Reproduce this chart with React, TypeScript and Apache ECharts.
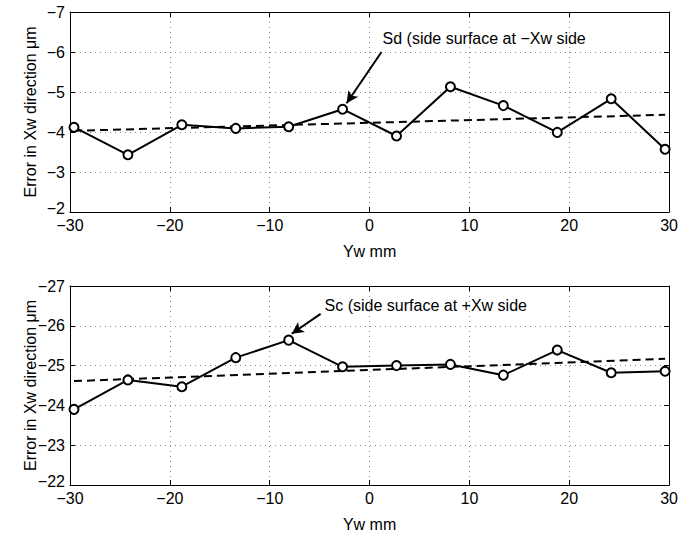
import React, { useEffect, useRef } from "react";
import * as echarts from "echarts";

const xPositions = [-29.6, -24.2, -18.8, -13.4, -8.1, -2.7, 2.7, 8.1, 13.4, 18.8, 24.2, 29.6];
const sdValues = [-4.12, -3.43, -4.18, -4.09, -4.13, -4.57, -3.9, -5.13, -4.66, -3.99, -4.83, -3.57];
const scValues = [-23.9, -24.64, -24.47, -25.2, -25.64, -24.97, -25.0, -25.03, -24.76, -25.39, -24.82, -24.86];
const sdTrendX = [-29.6, 29.6];
const sdTrend = [-4.03, -4.43];
const scTrendX = [-29.6, 29.6];
const scTrend = [-24.61, -25.17];
const xTicks = [-30, -20, -10, 0, 10, 20, 30];
const sdLabel = "Sd (side surface at \u2212Xw side";
const scLabel = "Sc (side surface at +Xw side";
const xName = "Yw mm";
const yName = "Error in Xw direction \u03bcm";

const fmt = (v: number) => (v < 0 ? "\u2212" + Math.abs(v) : String(v));
const FONT = "Liberation Sans, Arial, Helvetica, sans-serif";
const FS = 16;

export default function App() {
  const ref = useRef<HTMLDivElement>(null);
  useEffect(() => {
    if (!ref.current) return;
    const chart = echarts.init(ref.current, undefined, { renderer: "svg" });
    const grids = [
      { left: 70, right: 11, top: 12, height: 200 },
      { left: 70, right: 11, top: 286, height: 199 },
    ];
    const mkX = (gi: number, pos: "bottom" | "top", labels: boolean) => ({
      type: "value",
      gridIndex: gi,
      position: pos,
      min: xTicks[0],
      max: xTicks[xTicks.length - 1],
      interval: 10,
      name: labels ? xName : "",
      nameLocation: "middle",
      nameGap: 31,
      nameMoveOverlap: false,
      nameTextStyle: { color: "#000", fontSize: FS, fontFamily: FONT },
      axisLine: { show: true, onZero: false, lineStyle: { color: "#000", width: 1 } },
      axisTick: { show: true, inside: true, length: 5, lineStyle: { color: "#000" } },
      axisLabel: {
        show: labels,
        color: "#000",
        fontSize: FS,
        fontFamily: FONT,
        margin: 5,
        formatter: fmt,
      },
      splitLine: labels
        ? { show: true, lineStyle: { color: "#888", type: [1, 4], width: 1 } }
        : { show: false },
    });
    const mkY = (gi: number, pos: "left" | "right", labels: boolean, min: number, max: number) => ({
      type: "value",
      gridIndex: gi,
      position: pos,
      inverse: true,
      min,
      max,
      interval: 1,
      name: labels ? yName : "",
      nameLocation: "middle",
      nameGap: 32,
      nameMoveOverlap: false,
      nameTextStyle: { color: "#000", fontSize: FS, fontFamily: FONT },
      axisLine: { show: true, onZero: false, lineStyle: { color: "#000", width: 1 } },
      axisTick: { show: true, inside: true, length: 5, lineStyle: { color: "#000" } },
      axisLabel: {
        show: labels,
        color: "#000",
        fontSize: FS,
        fontFamily: FONT,
        margin: 5,
        formatter: (v: number) => (v === max ? "{lift|" + fmt(v) + "}" : fmt(v)),
        rich: {
          lift: {
            color: "#000",
            fontSize: FS,
            fontFamily: FONT,
            padding: [0, 0, 8, 0],
          },
        },
      },
      splitLine: labels
        ? { show: true, lineStyle: { color: "#888", type: [1, 4], width: 1 } }
        : { show: false },
    });
    const dataSeries = (xi: number, vals: number[], arrow: number[][]) => ({
      type: "line",
      xAxisIndex: xi,
      yAxisIndex: xi,
      data: xPositions.map((x, i) => [x, vals[i]]),
      symbol: "circle",
      symbolSize: 9,
      showSymbol: true,
      z: 5,
      lineStyle: { color: "#000", width: 2 },
      itemStyle: { color: "#fff", borderColor: "#000", borderWidth: 2 },
      markLine: {
        silent: true,
        symbol: ["none", "arrow"],
        symbolSize: [9, 12],
        label: { show: false },
        lineStyle: { color: "#000", width: 2, type: "solid" },
        data: [[{ coord: arrow[0] }, { coord: arrow[1] }]],
      },
    });
    const trendSeries = (xi: number, xs: number[], vals: number[]) => ({
      type: "line",
      xAxisIndex: xi,
      yAxisIndex: xi,
      data: xs.map((x, i) => [x, vals[i]]),
      symbol: "none",
      z: 4,
      lineStyle: { color: "#000", width: 2, type: [8, 5] },
    });
    chart.setOption({
      animation: false,
      backgroundColor: "#fff",
      textStyle: { fontFamily: FONT },
      grid: grids,
      xAxis: [mkX(0, "bottom", true), mkX(1, "bottom", true), mkX(0, "top", false), mkX(1, "top", false)],
      yAxis: [
        mkY(0, "left", true, -7, -2),
        mkY(1, "left", true, -27, -22),
        mkY(0, "right", false, -7, -2),
        mkY(1, "right", false, -27, -22),
      ],
      series: [
        trendSeries(0, sdTrendX, sdTrend),
        dataSeries(0, sdValues, [[1.2, -6.0], [-2.3, -4.72]]),
        trendSeries(1, scTrendX, scTrend),
        dataSeries(1, scValues, [[-4.9, -26.3], [-7.8, -25.8]]),
      ],
    });
    const p1 = chart.convertToPixel({ gridIndex: 0 }, [1.3, -6.35]) as number[];
    const p2 = chart.convertToPixel({ gridIndex: 1 }, [-4.5, -26.52]) as number[];
    chart.setOption({
      graphic: [
        {
          type: "text",
          x: p1[0],
          y: p1[1],
          style: { text: sdLabel, fill: "#000", fontSize: FS, fontFamily: FONT, verticalAlign: "middle" },
          z: 10,
        },
        {
          type: "text",
          x: p2[0],
          y: p2[1],
          style: { text: scLabel, fill: "#000", fontSize: FS, fontFamily: FONT, verticalAlign: "middle" },
          z: 10,
        },
      ],
    });
    return () => chart.dispose();
  }, []);
  return (
    <div
      ref={ref}
      style={{ position: "fixed", left: 0, top: 0, width: 681, height: 540, background: "#fff" }}
    />
  );
}
